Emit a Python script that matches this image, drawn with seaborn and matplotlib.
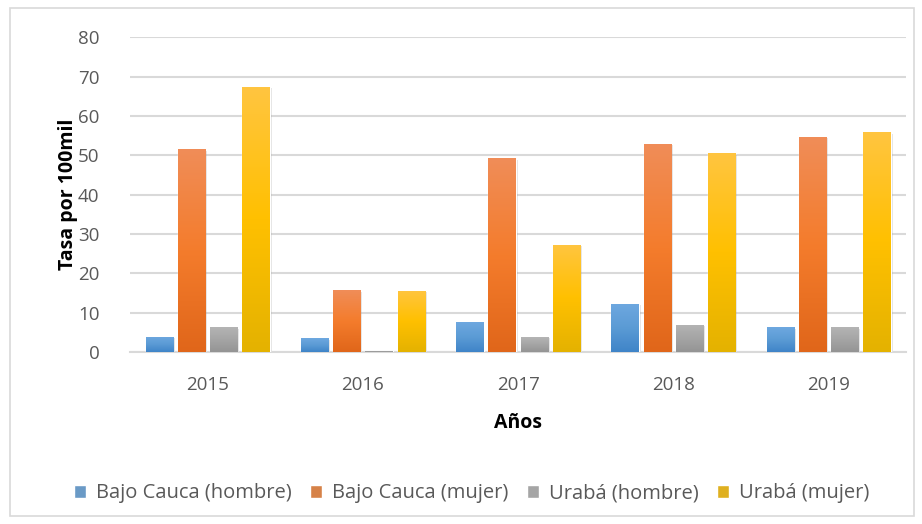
import matplotlib.pyplot as plt
import matplotlib.colors as mcolors
import numpy as np
import pandas as pd
import seaborn as sns
from matplotlib.patches import Rectangle

# datos
anios = ['2015', '2016', '2017', '2018', '2019']
series = ['Bajo Cauca (hombre)', 'Bajo Cauca (mujer)', 'Urabá (hombre)', 'Urabá (mujer)']
bc_hombre = [3.9, 3.5, 7.6, 12.2, 6.3]
bc_mujer = [51.5, 15.7, 49.2, 52.8, 54.6]
ur_hombre = [6.3, 0.3, 3.8, 6.9, 6.3]
ur_mujer = [67.3, 15.5, 27.2, 50.5, 55.8]

# colores base y degradado (arriba, medio, abajo)
colores = ['#5b9bd5', '#ed7d31', '#a5a5a5', '#ffc000']
degradados = [
    ['#6ea8e0', '#5b9bd5', '#3f84c8'],
    ['#f08d58', '#f47c2c', '#e0661a'],
    ['#b4b4b4', '#a5a5a5', '#949494'],
    ['#ffc540', '#ffc000', '#e4b200'],
]

df = pd.DataFrame({
    'anio': anios * 4,
    'serie': np.repeat(series, len(anios)),
    'valor': bc_hombre + bc_mujer + ur_hombre + ur_mujer,
})

sns.set_style('white')
plt.rcParams['font.family'] = ['Open Sans', 'DejaVu Sans']

fig = plt.figure(figsize=(9.22, 5.24), dpi=100)
ax = fig.add_axes([0.141, 0.328, 0.842, 0.601])

sns.barplot(data=df, x='anio', y='valor', hue='serie', palette=colores,
            width=0.83, gap=0.15, ax=ax, legend=True, zorder=3)

# relleno con degradado vertical para imitar el estilo de Excel
for i, cont in enumerate(ax.containers):
    cmap = mcolors.LinearSegmentedColormap.from_list('g%d' % i, degradados[i])
    grad = np.linspace(0, 1, 256).reshape(-1, 1)
    for bar in cont:
        x0, y0 = bar.get_x(), bar.get_y()
        w, h = bar.get_width(), bar.get_height()
        if h <= 0:
            continue
        sombra = Rectangle((x0 + 0.012, y0), w, h - 0.3, facecolor='#000000',
                           alpha=0.12, edgecolor='none', zorder=2)
        ax.add_patch(sombra)
        im = ax.imshow(grad, extent=[x0, x0 + w, y0, y0 + h], aspect='auto',
                       cmap=cmap, origin='upper', zorder=3.5)
        im.set_clip_path(bar)

ax.set_xlim(-0.5, 4.5)
ax.set_ylim(0, 80)
ax.set_yticks(range(0, 81, 10))
ax.grid(axis='y', color='#d9d9d9', linewidth=1.5, zorder=0)
ax.set_axisbelow(True)
for lado in ['top', 'right', 'left']:
    ax.spines[lado].set_visible(False)
ax.spines['bottom'].set_color('#d9d9d9')
ax.spines['bottom'].set_linewidth(1.5)
ax.tick_params(axis='both', length=0, labelsize=13.5, colors='#595959')
ax.tick_params(axis='x', pad=17)
ax.tick_params(axis='y', pad=22)

ax.set_xlabel('Años', fontsize=14, fontweight='bold', color='black', labelpad=14)
ax.set_ylabel('Tasa por 100mil', fontsize=14, fontweight='bold', color='black', labelpad=0)

handles, labels = ax.get_legend_handles_labels()
ax.legend(handles, labels, loc='center', bbox_to_anchor=(0.44, -0.448), ncol=4,
          frameon=False, fontsize=14.5, handlelength=0.6, handleheight=0.6,
          handletextpad=0.5, columnspacing=0.9, labelcolor='#595959')

# borde del área del gráfico
fig.patches.append(Rectangle((0.011, 0.015), 0.98, 0.97, transform=fig.transFigure,
                             fill=False, edgecolor='#d9d9d9', linewidth=1.2))

fig.savefig('out.png', dpi=100)
